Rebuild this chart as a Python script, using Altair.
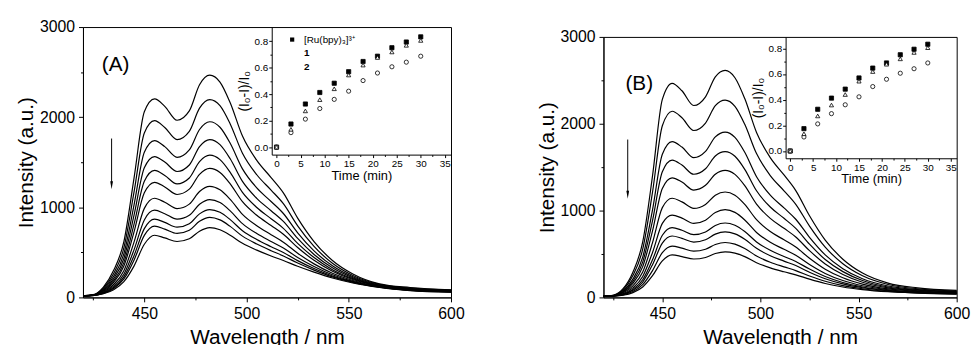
import altair as alt
import pandas as pd

WAVELENGTH = [420, 425, 430, 435, 440, 445, 450, 455, 460, 466, 472, 477, 482,
              487, 492, 498, 505, 512, 518, 525, 533, 542, 552, 565, 580, 600]

# Panel (A) emission spectra, top curve (t = 0) to bottom curve (t = 30 min)
A_0 = [18, 30, 115, 300, 620, 1330, 2060, 2203, 2120, 1966, 2070, 2360, 2466, 2390, 2160, 1790, 1520, 1330, 1160, 880, 620, 410, 260, 150, 110, 85]
A_1 = [18, 28, 103, 266, 549, 1173, 1825, 1961, 1886, 1751, 1843, 2100, 2195, 2128, 1925, 1600, 1361, 1191, 1040, 794, 566, 379, 244, 144, 104, 81]
A_2 = [17, 27, 92, 234, 484, 1030, 1610, 1740, 1673, 1554, 1636, 1863, 1949, 1888, 1710, 1426, 1215, 1064, 931, 716, 516, 350, 229, 138, 99, 77]
A_3 = [17, 26, 83, 209, 432, 915, 1438, 1563, 1502, 1397, 1469, 1673, 1751, 1696, 1538, 1287, 1099, 962, 843, 654, 476, 328, 218, 133, 95, 74]
A_4 = [16, 25, 76, 187, 386, 815, 1288, 1409, 1353, 1259, 1325, 1507, 1578, 1529, 1388, 1165, 998, 873, 766, 599, 442, 308, 208, 129, 92, 71]
A_5 = [16, 24, 69, 168, 348, 730, 1160, 1277, 1226, 1142, 1201, 1366, 1431, 1386, 1260, 1062, 911, 798, 701, 553, 412, 291, 199, 126, 89, 68]
A_6 = [16, 23, 60, 143, 296, 616, 988, 1100, 1056, 985, 1035, 1175, 1233, 1194, 1088, 922, 795, 696, 613, 490, 372, 268, 187, 121, 84, 65]
A_7 = [16, 22, 54, 125, 257, 530, 860, 968, 929, 868, 911, 1034, 1086, 1052, 960, 819, 708, 620, 548, 443, 343, 251, 178, 117, 81, 63]
A_8 = [15, 21, 49, 110, 228, 466, 763, 869, 832, 779, 818, 927, 975, 944, 863, 740, 642, 563, 499, 408, 320, 238, 172, 115, 79, 61]
A_9 = [15, 21, 45, 99, 205, 416, 688, 791, 758, 710, 745, 844, 888, 860, 788, 680, 592, 518, 460, 381, 303, 228, 167, 113, 77, 60]
A_10 = [15, 20, 40, 85, 175, 350, 590, 690, 660, 620, 650, 735, 775, 750, 690, 600, 525, 460, 410, 345, 280, 215, 160, 110, 75, 58]

# Panel (B) emission spectra
B_0 = [15, 25, 100, 290, 640, 1400, 2280, 2466, 2380, 2210, 2310, 2540, 2614, 2530, 2290, 1900, 1610, 1410, 1230, 940, 660, 440, 280, 165, 110, 80]
B_1 = [15, 23, 88, 252, 555, 1213, 1977, 2144, 2069, 1922, 2008, 2208, 2273, 2201, 1993, 1656, 1403, 1228, 1072, 821, 579, 388, 249, 149, 100, 73]
B_2 = [14, 22, 75, 210, 463, 1009, 1648, 1794, 1731, 1609, 1681, 1848, 1904, 1843, 1671, 1390, 1178, 1031, 900, 692, 490, 331, 215, 131, 90, 66]
B_3 = [14, 21, 66, 185, 407, 885, 1447, 1581, 1524, 1418, 1481, 1628, 1678, 1625, 1475, 1228, 1041, 911, 795, 613, 436, 297, 195, 120, 83, 61]
B_4 = [13, 19, 59, 161, 354, 766, 1255, 1377, 1328, 1236, 1291, 1419, 1463, 1417, 1287, 1074, 910, 796, 696, 538, 385, 264, 175, 110, 77, 57]
B_5 = [13, 18, 50, 133, 292, 630, 1034, 1142, 1100, 1025, 1071, 1177, 1214, 1177, 1071, 895, 759, 663, 580, 451, 325, 226, 153, 98, 70, 52]
B_6 = [13, 17, 42, 110, 241, 517, 852, 948, 913, 852, 889, 977, 1010, 979, 892, 748, 635, 554, 485, 379, 276, 194, 134, 88, 64, 48]
B_7 = [12, 17, 37, 92, 203, 433, 716, 804, 774, 723, 754, 829, 857, 831, 759, 639, 542, 472, 414, 326, 240, 171, 120, 81, 60, 45]
B_8 = [12, 16, 33, 81, 177, 377, 625, 707, 680, 637, 664, 729, 755, 732, 670, 565, 480, 418, 367, 290, 215, 155, 111, 76, 57, 43]
B_9 = [12, 16, 29, 67, 147, 309, 515, 591, 567, 532, 554, 609, 632, 613, 563, 477, 405, 352, 309, 247, 186, 136, 100, 70, 53, 40]
B_10 = [12, 15, 25, 55, 120, 250, 420, 490, 470, 442, 460, 505, 525, 510, 470, 400, 340, 295, 260, 210, 160, 120, 90, 65, 50, 38]

# Inset: quenching ratio (I0-I)/I0 versus time
TIME_MIN = [0, 3, 6, 9, 12, 15, 18, 21, 24, 27, 30]
RU_BPY = [0.0, 0.174, 0.325, 0.412, 0.482, 0.569, 0.646, 0.686, 0.750, 0.793, 0.832]
COMPOUND_1 = [0.0, 0.109, 0.211, 0.291, 0.360, 0.422, 0.502, 0.559, 0.606, 0.641, 0.686]
COMPOUND_2 = [0.0, 0.134, 0.273, 0.358, 0.440, 0.544, 0.619, 0.676, 0.718, 0.768, 0.805]
SERIES_NAMES = ["[Ru(bpy)\u2083]\u00b3\u207a", "1", "2"]

X_TICKS = [425, 450, 475, 500, 525, 550, 575, 600]
Y_TICKS = [0, 500, 1000, 1500, 2000, 2500, 3000]
INSET_X_TICKS = [0, 2.5, 5, 7.5, 10, 12.5, 15, 17.5, 20, 22.5, 25, 27.5, 30, 32.5, 35]
INSET_Y_TICKS = [0.0, 0.1, 0.2, 0.3, 0.4, 0.5, 0.6, 0.7, 0.8]

FONT = "Liberation Sans"


def spectra_frame(curves):
    rows = []
    for k, curve in enumerate(curves):
        for w, v in zip(WAVELENGTH, curve):
            rows.append({"wavelength": w, "intensity": v, "curve": k})
    return pd.DataFrame(rows)


def inset_frame():
    rows = []
    for name, vals in zip(SERIES_NAMES, [RU_BPY, COMPOUND_1, COMPOUND_2]):
        for t, v in zip(TIME_MIN, vals):
            rows.append({"time": t, "ratio": v, "series": name})
    return pd.DataFrame(rows)


def panel(curves, width, height, inset_xr, inset_yr, inset_ydom, legend_xy,
          label, label_xy, arrow_x, arrow_y1, arrow_tip, y_label_pad):
    main_x = alt.X(
        "wavelength:Q",
        scale=alt.Scale(domain=[420, 600], nice=False, zero=False),
        axis=alt.Axis(
            orient="bottom", values=X_TICKS, format="d",
            labelExpr="datum.value % 50 === 0 ? datum.label : ''",
            tickSize={"condition": {"test": "datum.value % 50 === 0", "value": 4.5}, "value": 2.5},
            title="Wavelength / nm", titleFontSize=21, titleFontWeight="normal",
            labelFontSize=16, labelPadding=4, titlePadding=5, labelFlush=False,
            labelOverlap=False, grid=False, domainColor="black", tickColor="black",
            labelColor="black", titleColor="black",
        ),
    )
    main_y = alt.Y(
        "intensity:Q",
        scale=alt.Scale(domain=[0, 3000], nice=False, zero=False),
        axis=alt.Axis(
            orient="left", values=Y_TICKS, format="d",
            labelExpr="datum.value % 1000 === 0 ? datum.label : ''",
            tickSize={"condition": {"test": "datum.value % 1000 === 0", "value": 4.5}, "value": 2.5},
            title="Intensity (a.u.)", titleFontSize=21, titleFontWeight="normal",
            labelFontSize=16, labelPadding=y_label_pad, titlePadding=3, labelFlush=False,
            labelOverlap=False, grid=False, domainColor="black", tickColor="black",
            labelColor="black", titleColor="black",
        ),
    )
    lines = alt.Chart(spectra_frame(curves)).mark_line(
        color="black", strokeWidth=1.2, interpolate="monotone"
    ).encode(x=main_x, y=main_y, detail="curve:N", order="wavelength:Q")

    leg = alt.Legend(
        title=None, orient="none", legendX=legend_xy[0], legendY=legend_xy[1],
        labelFontSize=10, labelFont=FONT, symbolSize=18, symbolStrokeColor="black",
        symbolStrokeWidth=0.8, labelOffset=7, rowPadding=4, padding=0,
        labelColor="black",
        labelExpr="datum.value === '1' || datum.value === '2' ? '\u00a0' + datum.label : datum.label",
        labelFontWeight=alt.ExprRef("datum.value === '1' || datum.value === '2' ? 'bold' : 'normal'"),
    )
    points = alt.Chart(inset_frame()).mark_point(
        filled=True, size=18, stroke="black", strokeWidth=0.8, opacity=1
    ).encode(
        x=alt.X(
            "time:Q",
            scale=alt.Scale(domain=[-1, 36.3], range=inset_xr, nice=False, zero=False),
            axis=alt.Axis(
                orient="bottom", offset=-(height - inset_yr[0]), values=INSET_X_TICKS,
                format="d", labelExpr="datum.value % 5 === 0 ? datum.label : ''",
                tickSize={"condition": {"test": "datum.value % 5 === 0", "value": 3}, "value": 1.8},
                title="Time (min)", titleFontSize=13, titleFontWeight="normal",
                labelFontSize=10, labelPadding=1, titlePadding=1, labelFlush=False,
                labelOverlap=False, grid=False, domainColor="black", tickColor="black",
                labelColor="black", titleColor="black",
            ),
        ),
        y=alt.Y(
            "ratio:Q",
            scale=alt.Scale(domain=inset_ydom, range=inset_yr, nice=False, zero=False),
            axis=alt.Axis(
                orient="left", offset=-inset_xr[0], values=INSET_Y_TICKS,
                labelExpr="round(datum.value * 10) % 2 === 0 ? format(datum.value, '.1f') : ''",
                tickSize={"condition": {"test": "round(datum.value * 10) % 2 === 0", "value": 3}, "value": 1.8},
                title="(I\u2080-I)/I\u2080", titleFontSize=14, titleFontWeight="normal",
                labelFontSize=10, labelPadding=1, titlePadding=3, labelFlush=False,
                labelOverlap=False, grid=False, domainColor="black", tickColor="black",
                labelColor="black", titleColor="black",
            ),
        ),
        shape=alt.Shape("series:N", scale=alt.Scale(domain=SERIES_NAMES, range=["square", "circle", "triangle-up"]), legend=leg),
        fill=alt.Fill("series:N", scale=alt.Scale(domain=SERIES_NAMES, range=["black", "white", "white"]), legend=leg),
    )

    one = pd.DataFrame({"t": [label]})
    text = alt.Chart(one).mark_text(
        font=FONT, fontSize=21, align="left", baseline="alphabetic", color="black"
    ).encode(text="t:N", x=alt.value(label_xy[0]), y=alt.value(label_xy[1]))
    rule = alt.Chart(one).mark_rule(color="black", strokeWidth=1).encode(
        x=alt.value(arrow_x), y=alt.value(arrow_y1), y2=alt.value(arrow_tip - 6)
    )
    head = alt.Chart(one).mark_point(
        shape="M-0.35,-1L0.35,-1L0,1Z", filled=True, color="black", size=64, opacity=1
    ).encode(x=alt.value(arrow_x), y=alt.value(arrow_tip - 4))

    return alt.layer(lines, points, text, rule, head).resolve_scale(
        x="independent", y="independent"
    ).properties(width=width, height=height)


panel_a = panel(
    [A_0, A_1, A_2, A_3, A_4, A_5, A_6, A_7, A_8, A_9, A_10],
    width=373, height=274, inset_xr=[191.3, 373], inset_yr=[129.3, 0],
    inset_ydom=[-0.057, 0.906], legend_xy=[207, 7.7], label="(A)",
    label_xy=[19, 44.5], arrow_x=29, arrow_y1=113, arrow_tip=164.3, y_label_pad=4,
)
panel_b = panel(
    [B_0, B_1, B_2, B_3, B_4, B_5, B_6, B_7, B_8, B_9, B_10],
    width=358, height=264, inset_xr=[184.6, 358], inset_yr=[123, 0],
    inset_ydom=[-0.057, 0.889], legend_xy=[199.6, 6], label="(B)",
    label_xy=[22.3, 53.3], arrow_x=24.6, arrow_y1=104, arrow_tip=164, y_label_pad=4,
)

# invisible spacer that lowers panel (B) a little relative to panel (A)
spacer = alt.Chart(pd.DataFrame({"t": [0]})).mark_point(opacity=0, size=0).encode(
    x=alt.value(0), y=alt.value(0)
).properties(width=358, height=0.7, view=alt.ViewBackground(strokeOpacity=0))

right = alt.vconcat(spacer, panel_b, spacing=0)

chart = alt.hconcat(panel_a, right, spacing=71.5).properties(
    padding={"left": 7, "top": 8, "right": 0, "bottom": 0}
).configure(font=FONT).configure_view(stroke="black", strokeWidth=1)

chart.save("out.html", embed_options={"renderer": "svg", "actions": False})
